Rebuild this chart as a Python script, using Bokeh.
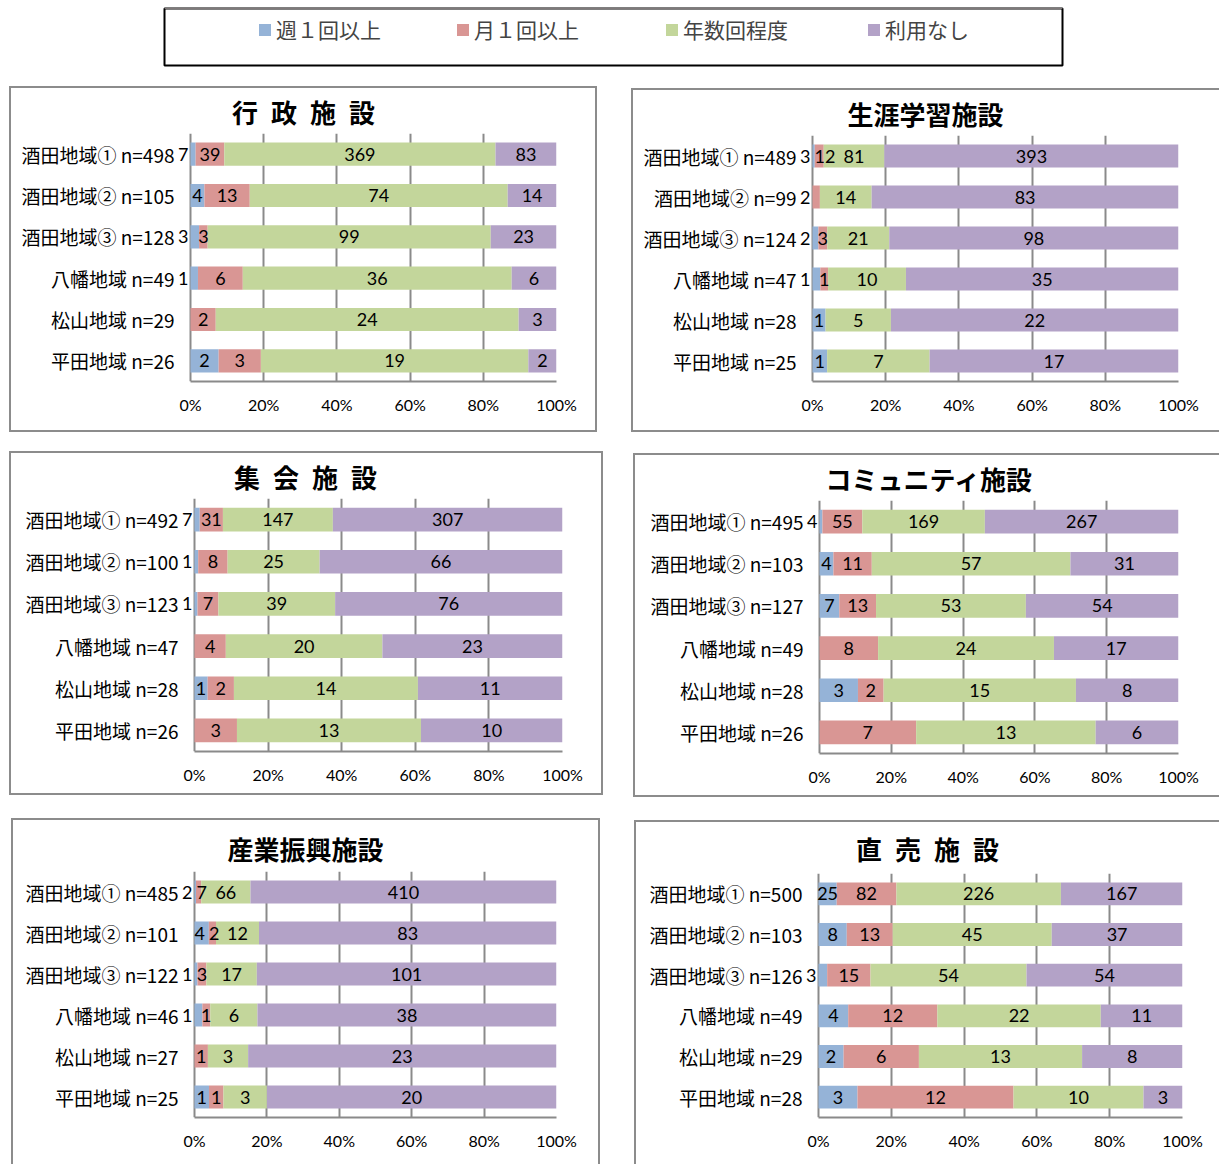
from bokeh.plotting import figure
from bokeh.models import (ColumnDataSource, FactorRange, Range1d, FixedTicker,
                          PrintfTickFormatter, LabelSet, Title, Legend, LegendItem)
from bokeh.layouts import column, row
from bokeh.embed import file_html
from bokeh.resources import INLINE
from bokeh.core.properties import value

# ---------------------------------------------------------------- data
series = ["週１回以上", "月１回以上", "年数回程度", "利用なし"]
colors = ["#95B3D7", "#D99694", "#C3D69B", "#B3A2C7"]

areas = ["酒田地域①", "酒田地域②", "酒田地域③", "八幡地域", "松山地域", "平田地域"]

# 行政施設
admin_n = [498, 105, 128, 49, 29, 26]
admin_weekly = [7, 4, 3, 1, 0, 2]
admin_monthly = [39, 13, 3, 6, 2, 3]
admin_yearly = [369, 74, 99, 36, 24, 19]
admin_none = [83, 14, 23, 6, 3, 2]

# 生涯学習施設
learn_n = [489, 99, 124, 47, 28, 25]
learn_weekly = [3, 0, 2, 1, 1, 1]
learn_monthly = [12, 2, 3, 1, 0, 0]
learn_yearly = [81, 14, 21, 10, 5, 7]
learn_none = [393, 83, 98, 35, 22, 17]

# 集会施設
hall_n = [492, 100, 123, 47, 28, 26]
hall_weekly = [7, 1, 1, 0, 1, 0]
hall_monthly = [31, 8, 7, 4, 2, 3]
hall_yearly = [147, 25, 39, 20, 14, 13]
hall_none = [307, 66, 76, 23, 11, 10]

# コミュニティ施設
comm_n = [495, 103, 127, 49, 28, 26]
comm_weekly = [4, 4, 7, 0, 3, 0]
comm_monthly = [55, 11, 13, 8, 2, 7]
comm_yearly = [169, 57, 53, 24, 15, 13]
comm_none = [267, 31, 54, 17, 8, 6]

# 産業振興施設
ind_n = [485, 101, 122, 46, 27, 25]
ind_weekly = [2, 4, 1, 1, 0, 1]
ind_monthly = [7, 2, 3, 1, 1, 1]
ind_yearly = [66, 12, 17, 6, 3, 3]
ind_none = [410, 83, 101, 38, 23, 20]

# 直売施設
shop_n = [500, 103, 126, 49, 29, 28]
shop_weekly = [25, 8, 3, 4, 2, 3]
shop_monthly = [82, 13, 15, 12, 6, 12]
shop_yearly = [226, 45, 54, 22, 13, 10]
shop_none = [167, 37, 54, 11, 8, 3]

# ---------------------------------------------------------------- styling
GRID = "#8a8a8a"
BORDER_W = 2
BORDER = f"{BORDER_W}px solid #8c8c8c"
CJK = "Noto Sans CJK JP"
TITLE_FONT = "Lato, Noto Sans CJK JP"
NUM_FONT = "Lato"
NUM_SIZE = 18
DIGIT_W = 0.58 * NUM_SIZE
TITLE_SIZE = 26
PAD = 16          # room (px) left of the 0% line for labels of thin segments


def place_labels(counts, total, px_per_pct):
    """Centre each value label on its segment; a label much wider than the
    first segment goes just left of the 0% line; neighbours are pushed apart."""
    segs, cum = [], 0
    for v in counts:
        if v > 0:
            segs.append((cum / total * 100, (cum + v) / total * 100, v))
        cum += v
    cs, ws, pinned = [], [], []
    for k, (lo, hi, v) in enumerate(segs):
        w = len(str(v)) * DIGIT_W
        if k == 0 and lo == 0 and (hi - lo) * px_per_pct < 0.85 * w:
            cs.append(-(w / 2 + 2))
            pinned.append(True)
        else:
            cs.append((lo + hi) / 2 * px_per_pct)
            pinned.append(False)
        ws.append(w)
    gap = 4
    for _ in range(80):
        moved = False
        for i in range(len(cs) - 1):
            ov = cs[i] + ws[i] / 2 + gap - (cs[i + 1] - ws[i + 1] / 2)
            if ov > 0.01:
                if pinned[i]:
                    cs[i + 1] += ov
                else:
                    cs[i] -= ov / 2
                    cs[i + 1] += ov / 2
                moved = True
        if not moved:
            break
    return [(c / px_per_pct, str(s[2])) for c, s in zip(cs, segs)]


def title_width(text, size):
    w = 0.0
    for ch in text:
        if ch == "\u2002":
            w += 0.5 * size
        elif ord(ch) < 128:
            w += 0.55 * size
        else:
            w += size
    return w


def make_panel(title, n, cols, g):
    cats = [f"{a} n={k}" for a, k in zip(areas, n)]
    ox, oy, ow, oh = g["box"]
    x0, x1, fy0, fh = g["frame"]
    cx, cy = ox + BORDER_W, oy + BORDER_W
    left = x0 - PAD - cx
    fw = x1 - x0 + PAD
    top = fy0 - cy
    px_per_pct = (x1 - x0) / 100
    p = figure(width=ow, height=oh,
               y_range=FactorRange(factors=cats[::-1]),
               x_range=Range1d(-PAD / px_per_pct, 100),
               min_border_left=left, min_border_right=ow - left - fw,
               min_border_top=top, min_border_bottom=oh - top - fh,
               output_backend="svg", toolbar_location=None)
    p.outline_line_color = None
    p.background_fill_color = "white"
    p.border_fill_color = "white"

    # stacked 100% bars
    cum = [0] * len(cats)
    for vals, color in zip(cols, colors):
        lft = [c / t * 100 for c, t in zip(cum, n)]
        cum = [c + v for c, v in zip(cum, vals)]
        rgt = [c / t * 100 for c, t in zip(cum, n)]
        src = ColumnDataSource(dict(y=cats, left=lft, right=rgt))
        p.hbar(y="y", left="left", right="right", height=0.56, source=src,
               fill_color=color, line_color=None)

    # value labels
    lx, ly, lt = [], [], []
    for i, cat in enumerate(cats):
        for x, t in place_labels([c[i] for c in cols], n[i], px_per_pct):
            lx.append(x)
            ly.append(cat)
            lt.append(t)
    lab_src = ColumnDataSource(dict(x=lx, y=ly, t=lt))
    p.add_layout(LabelSet(x="x", y="y", text="t", source=lab_src,
                          text_align="center", text_baseline="middle",
                          text_font=value(NUM_FONT),
                          text_font_size=value(f"{NUM_SIZE}px"),
                          text_color="black"))

    # percentage axis
    p.xaxis.ticker = FixedTicker(ticks=[0, 20, 40, 60, 80, 100])
    p.xaxis.formatter = PrintfTickFormatter(format="%d%%")
    p.xaxis.bounds = (0, 100)
    p.xaxis.major_tick_in = 0
    p.xaxis.major_tick_out = 0
    p.xaxis.minor_tick_line_color = None
    p.xaxis.axis_line_color = GRID
    p.xaxis.axis_line_width = 2
    p.xaxis.major_label_standoff = 13
    p.xaxis.major_label_text_font = NUM_FONT
    p.xaxis.major_label_text_font_size = "16px"
    p.xaxis.major_label_text_color = "black"

    # area axis; the 0% grid line acts as its spine
    p.yaxis.major_tick_in = 0
    p.yaxis.major_tick_out = 0
    p.yaxis.axis_line_color = None
    p.yaxis.major_label_standoff = 0
    p.yaxis.major_label_text_font = CJK
    p.yaxis.major_label_text_font_size = "19px"
    p.yaxis.major_label_text_color = "black"

    p.xgrid.grid_line_color = GRID
    p.xgrid.grid_line_width = 2
    p.ygrid.grid_line_color = None

    tw = title_width(title, TITLE_SIZE)
    p.add_layout(Title(text=title, align="left", vertical_align="bottom",
                       offset=g["tcx"] - tw / 2 - (x0 - PAD),
                       standoff=g["tstand"], text_font=TITLE_FONT,
                       text_font_style="bold",
                       text_font_size=f"{TITLE_SIZE}px",
                       text_color="black"), "above")

    p.styles = {f"border-{s}": BORDER for s in g["sides"]}
    p.margin = g["margin"]
    return p


geo = {
    "admin": dict(box=(9, 86, 588, 346), frame=(190, 556, 133, 248),
                  tcx=303, tstand=9, margin=(0, 0, 0, 9),
                  sides=["left", "right", "top", "bottom"]),
    "learn": dict(box=(631, 88, 588, 344), frame=(812, 1178, 134, 251),
                  tcx=925, tstand=10, margin=(2, 0, 0, 34),
                  sides=["left", "top", "bottom"]),
    "hall": dict(box=(9, 451, 594, 344), frame=(194, 562, 498, 253),
                 tcx=305, tstand=9, margin=(19, 0, 0, 9),
                 sides=["left", "right", "top", "bottom"]),
    "comm": dict(box=(633, 453, 586, 344), frame=(819, 1178, 498, 256),
                 tcx=929, tstand=9, margin=(21, 0, 0, 30),
                 sides=["left", "top", "bottom"]),
    "ind": dict(box=(11, 818, 589, 346), frame=(194, 556, 871, 246),
                tcx=305, tstand=12, margin=(21, 0, 0, 11),
                sides=["left", "right", "top"]),
    "shop": dict(box=(634, 820, 585, 344), frame=(818, 1182, 871, 250),
                 tcx=927, tstand=15, margin=(23, 0, 0, 34),
                 sides=["left", "top"]),
}

p1 = make_panel("行\u2002政\u2002施\u2002設", admin_n,
                [admin_weekly, admin_monthly, admin_yearly, admin_none], geo["admin"])
p2 = make_panel("生涯学習施設", learn_n,
                [learn_weekly, learn_monthly, learn_yearly, learn_none], geo["learn"])
p3 = make_panel("集\u2002会\u2002施\u2002設", hall_n,
                [hall_weekly, hall_monthly, hall_yearly, hall_none], geo["hall"])
p4 = make_panel("コミュニティ施設", comm_n,
                [comm_weekly, comm_monthly, comm_yearly, comm_none], geo["comm"])
p5 = make_panel("産業振興施設", ind_n,
                [ind_weekly, ind_monthly, ind_yearly, ind_none], geo["ind"])
p6 = make_panel("直\u2002売\u2002施\u2002設", shop_n,
                [shop_weekly, shop_monthly, shop_yearly, shop_none], geo["shop"])

# shared legend in its own boxed strip
lg = figure(width=1219, height=86, x_range=Range1d(0, 1), y_range=Range1d(0, 1),
            min_border_left=164, min_border_right=157, min_border_top=8,
            min_border_bottom=21, x_axis_location=None, y_axis_location=None,
            output_backend="svg", toolbar_location=None)
lg.grid.visible = False
lg.outline_line_color = "black"
lg.outline_line_width = 2
for s, c, lx in zip(series, colors, [93, 291, 500, 702]):
    # swatch renderer sits outside the visible range; only its legend entry shows
    r = lg.hbar(y=[2], left=[0], right=[1], height=0.5, fill_color=c, line_color=None)
    lg.add_layout(Legend(items=[LegendItem(label=s, renderers=[r])],
                         location=(lx, 21), orientation="horizontal",
                         border_line_color=None, background_fill_alpha=0,
                         padding=0, margin=0, glyph_width=15, glyph_height=15,
                         label_standoff=4, label_text_font=CJK,
                         label_text_font_size="21px"))

layout = column(lg, row(p1, p2), row(p3, p4), row(p5, p6))

with open("out.html", "w") as f:
    f.write(file_html(layout, INLINE))
